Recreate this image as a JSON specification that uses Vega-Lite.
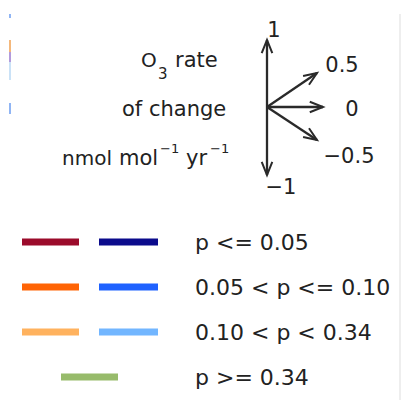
{
  "$schema": "https://vega.github.io/schema/vega-lite/v6.json",
  "width": 404,
  "height": 400,
  "autosize": "none",
  "padding": 0,
  "background": "white",
  "config": {"view": {"stroke": null}},
  "datasets": {
    "shafts": [
      {"x": 267, "y": 107, "x2": 267, "y2": 40},
      {"x": 267, "y": 107, "x2": 267, "y2": 175},
      {"x": 267, "y": 107, "x2": 317, "y2": 73},
      {"x": 267, "y": 107, "x2": 323, "y2": 107},
      {"x": 267, "y": 107, "x2": 317, "y2": 140}
    ],
    "heads": [
      {"x": 267, "y": 40, "a": 0},
      {"x": 267, "y": 175, "a": 180},
      {"x": 317, "y": 73, "a": 56},
      {"x": 323, "y": 107, "a": 90},
      {"x": 317, "y": 140, "a": 124}
    ],
    "arrowLabels": [
      {"x": 274, "y": 37, "t": "1"},
      {"x": 342, "y": 72, "t": "0.5"},
      {"x": 352, "y": 116, "t": "0"},
      {"x": 349, "y": 163, "t": "−0.5"},
      {"x": 281, "y": 194, "t": "−1"}
    ],
    "titleFragments": [
      {"x": 141, "y": 67, "t": "O", "fs": 20},
      {"x": 158, "y": 79, "t": "3", "fs": 15},
      {"x": 175, "y": 67, "t": "rate", "fs": 21},
      {"x": 122, "y": 116, "t": "of change", "fs": 21},
      {"x": 62, "y": 165, "t": "nmol", "fs": 20},
      {"x": 119, "y": 165, "t": "mol", "fs": 21},
      {"x": 160, "y": 153, "t": "−1", "fs": 13},
      {"x": 186, "y": 165, "t": "yr", "fs": 21},
      {"x": 210, "y": 153, "t": "−1", "fs": 13}
    ],
    "swatches": [
      {"x": 22, "x2": 79, "y": 242, "c": "#9b0b2b"},
      {"x": 99, "x2": 158, "y": 242, "c": "#0b0b8c"},
      {"x": 22, "x2": 79, "y": 287, "c": "#ff6405"},
      {"x": 99, "x2": 158, "y": 287, "c": "#1f62ff"},
      {"x": 22, "x2": 79, "y": 332, "c": "#ffb25e"},
      {"x": 99, "x2": 158, "y": 332, "c": "#72b6ff"},
      {"x": 61, "x2": 118, "y": 377, "c": "#97bb6b"}
    ],
    "legendText": [
      {"x": 195, "y": 250, "t": "p <= 0.05"},
      {"x": 195, "y": 295, "t": "0.05 < p <= 0.10"},
      {"x": 195, "y": 340, "t": "0.10 < p < 0.34"},
      {"x": 195, "y": 385, "t": "p >= 0.34"}
    ],
    "edges": [
      {"x": 10, "y": 14, "y2": 18, "c": "#6b9cf0"},
      {"x": 10, "y": 40, "y2": 52, "c": "#f0a050"},
      {"x": 10, "y": 52, "y2": 62, "c": "#9a7ad0"},
      {"x": 10, "y": 62, "y2": 80, "c": "#b8d8f4"},
      {"x": 10, "y": 103, "y2": 114, "c": "#6b9cf0"},
      {"x": 400, "y": 14, "y2": 400, "c": "#e8e8e8"}
    ]
  },
  "layer": [
    {
      "data": {"name": "edges"},
      "mark": {"type": "rule", "strokeWidth": 1.5},
      "encoding": {
        "x": {"field": "x", "type": "quantitative", "scale": {"domain": [0, 404], "range": [0, 404], "nice": false, "zero": false}, "axis": null},
        "y": {"field": "y", "type": "quantitative", "scale": {"domain": [0, 400], "range": [0, 400], "nice": false, "zero": false}, "axis": null},
        "y2": {"field": "y2"},
        "color": {"field": "c", "type": "nominal", "scale": null, "legend": null}
      }
    },
    {
      "data": {"name": "shafts"},
      "mark": {"type": "rule", "strokeWidth": 2.3, "color": "#2a2a2a"},
      "encoding": {
        "x": {"field": "x", "type": "quantitative"},
        "y": {"field": "y", "type": "quantitative"},
        "x2": {"field": "x2"},
        "y2": {"field": "y2"}
      }
    },
    {
      "data": {"name": "heads"},
      "mark": {"type": "point", "shape": "M-0.4,1 L0,0 L0.4,1", "filled": false, "size": 700, "strokeWidth": 2, "color": "#2a2a2a", "opacity": 1, "strokeJoin": "miter"},
      "encoding": {
        "x": {"field": "x", "type": "quantitative"},
        "y": {"field": "y", "type": "quantitative"},
        "angle": {"field": "a", "type": "quantitative", "scale": null}
      }
    },
    {
      "data": {"name": "arrowLabels"},
      "mark": {"type": "text", "align": "center", "baseline": "alphabetic", "font": "DejaVu Sans", "fontSize": 21, "color": "#222222"},
      "encoding": {
        "x": {"field": "x", "type": "quantitative"},
        "y": {"field": "y", "type": "quantitative"},
        "text": {"field": "t", "type": "nominal"}
      }
    },
    {
      "data": {"name": "titleFragments"},
      "mark": {"type": "text", "align": "left", "baseline": "alphabetic", "font": "DejaVu Sans", "color": "#222222"},
      "encoding": {
        "x": {"field": "x", "type": "quantitative"},
        "y": {"field": "y", "type": "quantitative"},
        "text": {"field": "t", "type": "nominal"},
        "size": {"field": "fs", "type": "quantitative", "scale": null, "legend": null}
      }
    },
    {
      "data": {"name": "swatches"},
      "mark": {"type": "rule", "strokeWidth": 7, "strokeCap": "butt"},
      "encoding": {
        "x": {"field": "x", "type": "quantitative"},
        "x2": {"field": "x2"},
        "y": {"field": "y", "type": "quantitative"},
        "color": {"field": "c", "type": "nominal", "scale": null, "legend": null}
      }
    },
    {
      "data": {"name": "legendText"},
      "mark": {"type": "text", "align": "left", "baseline": "alphabetic", "font": "DejaVu Sans", "fontSize": 22, "color": "#222222"},
      "encoding": {
        "x": {"field": "x", "type": "quantitative"},
        "y": {"field": "y", "type": "quantitative"},
        "text": {"field": "t", "type": "nominal"}
      }
    }
  ]
}
